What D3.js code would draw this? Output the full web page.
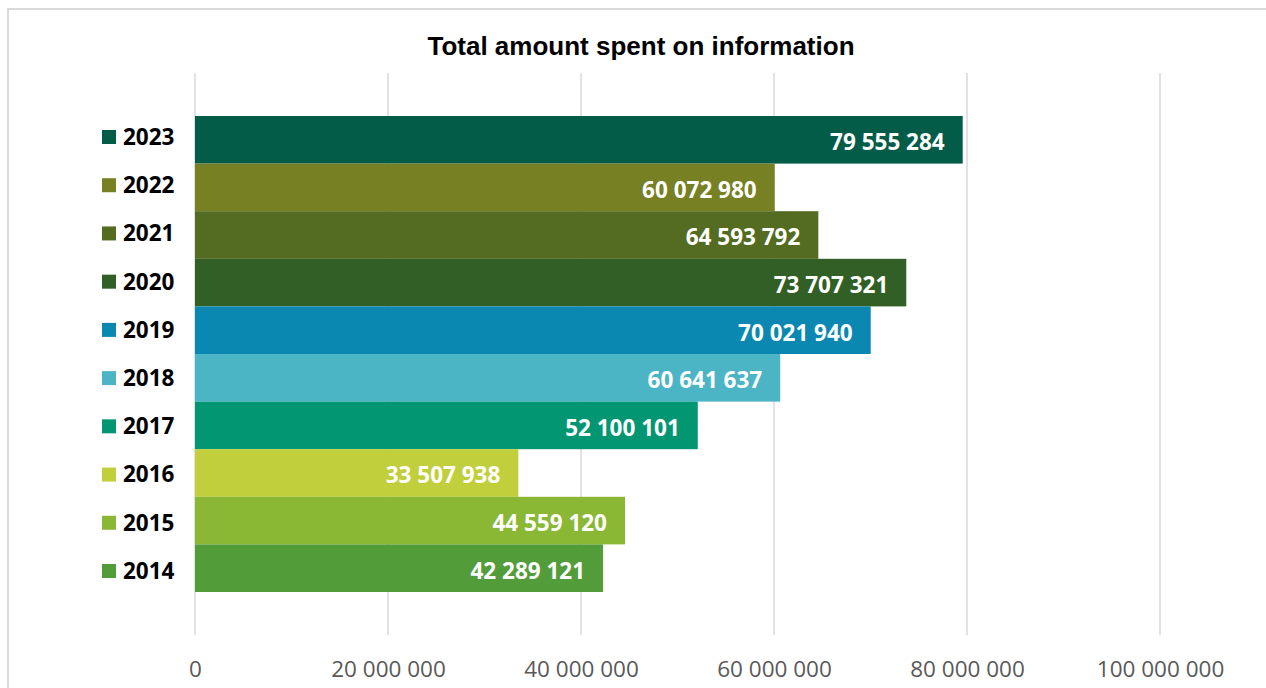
<!DOCTYPE html>
<html>
<head>
<meta charset="utf-8">
<script src="https://cdn.jsdelivr.net/npm/d3@7"></script>
<style>
  html, body { margin: 0; padding: 0; background: #fff; }
  svg { display: block; }
</style>
</head>
<body>
<svg id="chart" width="1266" height="688"></svg>
<script>
// Yearly totals, top to bottom
const years = ["2023", "2022", "2021", "2020", "2019", "2018", "2017", "2016", "2015", "2014"];
const amounts = [79555284, 60072980, 64593792, 73707321, 70021940, 60641637, 52100101, 33507938, 44559120, 42289121];
const yearColors = ["#035c48", "#778023", "#536c21", "#315f25", "#0a88b2", "#4bb4c5", "#029672", "#c1cf3c", "#8ab734", "#529d3a"];
const xTicks = [0, 20000000, 40000000, 60000000, 80000000, 100000000];
const title = "Total amount spent on information";

const svg = d3.select("#chart");
const titleFont = "'Liberation Sans', Arial, sans-serif";
const bodyFont = "'Open Sans', 'Noto Sans', sans-serif";

// space-grouped thousands
const fmt = d3.formatLocale({ decimal: ".", thousands: " ", grouping: [3], currency: ["", ""] }).format(",d");

// chart frame
svg.append("rect")
  .attr("x", 8).attr("y", 9).attr("width", 1270).attr("height", 690)
  .attr("fill", "#fff").attr("stroke", "#d9d9d9").attr("stroke-width", 2);

const x = d3.scaleLinear().domain([0, 100000000]).range([195, 1160]);
const y = d3.scaleBand().domain(years).range([116, 592]).padding(0);
// legend entries are spaced on their own, slightly wider than the bars
const legendY = d3.scalePoint().domain(years).range([137, 571]);

// vertical gridlines
svg.append("g").selectAll("line").data(xTicks).join("line")
  .attr("x1", d => x(d)).attr("x2", d => x(d))
  .attr("y1", 73).attr("y2", 635)
  .attr("stroke", "#d9d9d9").attr("stroke-width", 1.5);

// tick labels
const xAxis = d3.axisBottom(x).tickValues(xTicks).tickSize(0).tickPadding(0).tickFormat(fmt);
const axisG = svg.append("g").attr("transform", "translate(0,661)").call(xAxis);
axisG.select(".domain").remove();
axisG.selectAll("text")
  .attr("fill", "#595959")
  .style("font-family", bodyFont)
  .style("font-size", "22.5px");

// bars
svg.append("g").selectAll("rect").data(years).join("rect")
  .attr("x", x(0))
  .attr("y", d => y(d))
  .attr("width", (d, i) => x(amounts[i]) - x(0))
  .attr("height", y.bandwidth())
  .attr("fill", (d, i) => yearColors[i]);

// value labels inside bar ends
svg.append("g").selectAll("text").data(years).join("text")
  .attr("x", (d, i) => x(amounts[i]) - 18)
  .attr("y", d => y(d) + y.bandwidth() / 2 + 2.5)
  .attr("dy", "0.35em")
  .attr("text-anchor", "end")
  .attr("fill", "#fff")
  .style("font-family", bodyFont)
  .style("font-weight", "bold")
  .style("font-size", "22.5px")
  .text((d, i) => fmt(amounts[i]));

// legend
const legend = svg.append("g").selectAll("g").data(years).join("g")
  .attr("transform", d => `translate(0,${legendY(d)})`);
legend.append("rect")
  .attr("x", 102).attr("y", -7).attr("width", 14).attr("height", 14)
  .attr("fill", (d, i) => yearColors[i]);
legend.append("text")
  .attr("x", 123).attr("y", 0)
  .attr("dy", "0.35em")
  .attr("fill", "#000")
  .style("font-family", bodyFont)
  .style("font-weight", "bold")
  .style("font-size", "22.5px")
  .text(d => d);

// title
svg.append("text")
  .attr("x", 641).attr("y", 55)
  .attr("text-anchor", "middle")
  .attr("fill", "#000")
  .style("font-family", titleFont)
  .style("font-weight", "bold")
  .style("font-size", "26px")
  .text(title);
</script>
</body>
</html>
